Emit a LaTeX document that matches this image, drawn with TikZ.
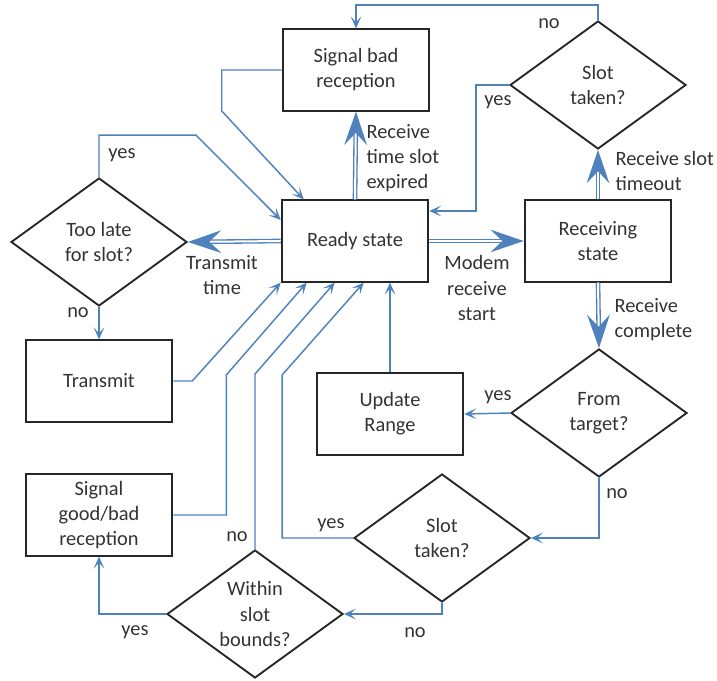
\documentclass[tikz,border=0pt]{standalone}
\usepackage{fontspec}
\setmainfont{Carlito}
\usepackage{tikz}
\usetikzlibrary{arrows.meta,shapes.geometric,calc}
\definecolor{fblue}{HTML}{4F81BD}
\definecolor{fdark}{HTML}{262626}
\definecolor{ftext}{HTML}{333333}

\begin{document}
\begin{tikzpicture}[x=0.75pt,y=-0.75pt,
    font=\fontsize{15.3}{18.8}\selectfont,
    box/.style={draw=fdark,line width=1.4pt,text=ftext,align=center,
                minimum width=110pt,minimum height=61pt,inner sep=2pt},
    decision/.style={diamond,draw=fdark,line width=1.4pt,text=ftext,align=center,
                aspect=1.37,minimum width=132pt,minimum height=96pt,inner sep=0pt},
    lbl/.style={text=ftext,inner sep=1pt},
    flow/.style={draw=fblue,line width=1.1pt,
                -{Stealth[length=9pt,width=8pt,inset=4.5pt]}},
    bigflow/.style={draw=fblue,line width=1pt,double=white,double distance=1.5pt,
                -{Stealth[length=25pt,width=17pt,inset=9pt]}}]
  \useasboundingbox (0,0) rectangle (717,681);

  \node[box] (ready) at (355,241) {Ready state};
  \node[box] (sigbad) at (356,70) {Signal bad\\reception};
  \node[box] (recv) at (598,241) {Receiving\\state};
  \node[box] (transmit) at (99,381) {Transmit};
  \node[box] (update) at (390,414) {Update\\Range};
  \node[box] (siggood) at (99,515) {Signal\\good/bad\\reception};

  \node[decision] (slottop) at (598,85) {Slot\\taken?};
  \node[decision] (toolate) at (99,242) {Too late\\for slot?};
  \node[decision] (fromtgt) at (599,413) {From\\target?};
  \node[decision] (slotlow) at (442,538) {Slot\\taken?};
  \node[decision] (within) at (255,614) {Within\\slot\\bounds?};

  % events out of the two states
  \draw[bigflow] (ready.north) -- (sigbad.south);
  \draw[bigflow] (ready.west) -- (toolate.east);
  \draw[bigflow] (ready.east) -- (recv.west);
  \draw[bigflow] (recv.north) -- (slottop.south);
  \draw[bigflow] (recv.south) -- (fromtgt.north);

  \node[lbl,anchor=west,align=left] (lexpired) at (365,158) {Receive\\time slot\\expired};
  \node[lbl,align=center] (ltxtime) at (222,275) {Transmit\\time};
  \node[lbl,align=center] (lmodem) at (477,288) {Modem\\receive\\start};
  \node[lbl,anchor=west,align=left] (ltimeout) at (614,171) {Receive slot\\timeout};
  \node[lbl,anchor=west,align=left] (lcomplete) at (613,320) {Receive\\complete};

  % decisions and returns
  \draw[flow] (sigbad.west) -- ++(-60,0) -- ++(0,41) -- ($(ready.north west)+(23,0)$);
  \draw[flow] (toolate.north) -- ++(0,-42) -- ++(97,0) -- ($(ready.west)+(0,-21)$);
  \draw[flow] (slottop.north) -- ++(0,-15) -| (sigbad.north);
  \draw[flow] (slottop.west) -- ++(-33,0) |- ($(ready.east)+(0,-30)$);
  \draw[flow] (toolate.south) -- (transmit.north);
  \draw[flow] (transmit.east) -- ++(19,0) -- (ready.south west);
  \draw[flow] (siggood.east) -- ++(53,0) -- ++(0,-140) -- ($(ready.south west)+(26,0)$);
  \draw[flow] (within.north) -- ++(0,-175) -- ($(ready.south west)+(54,0)$);
  \draw[flow] (slotlow.west) -- ++(-71,0) -- ++(0,-163) -- ($(ready.south west)+(83,0)$);
  \draw[flow] (update.north) -- (update.north |- ready.south);
  \draw[flow] (fromtgt.west) -- (update.east);
  \draw[flow] (fromtgt.south) |- (slotlow.east);
  \draw[flow] (slotlow.south) |- (within.east);
  \draw[flow] (within.west) -| (siggood.south);

  \node[lbl] (ytoolate) at (122,155) {yes};
  \node[lbl] (ntoolate) at (78,313) {no};
  \node[lbl] (nslottop) at (549,24) {no};
  \node[lbl] (yslottop) at (498,102) {yes};
  \node[lbl] (yfromtgt) at (498,397) {yes};
  \node[lbl] (nfromtgt) at (617,494) {no};
  \node[lbl] (yslotlow) at (331,525) {yes};
  \node[lbl] (nwithin) at (237,537) {no};
  \node[lbl] (nslotlow) at (415,633) {no};
  \node[lbl] (ywithin) at (135,632) {yes};
\end{tikzpicture}
\end{document}
